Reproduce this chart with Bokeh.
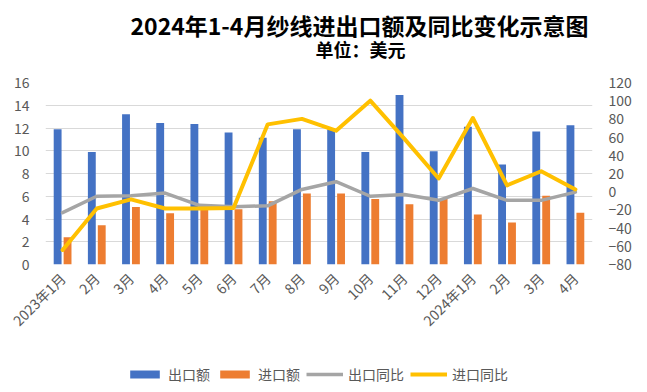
import math
from bokeh.plotting import figure
from bokeh.layouts import column
from bokeh.models import (ColumnDataSource, Range1d, LinearAxis, FixedTicker, Title,
                          Legend, LegendItem)
from bokeh.transform import dodge
from bokeh.embed import file_html
from bokeh.resources import INLINE

months = ["2023年1月", "2月", "3月", "4月", "5月", "6月", "7月", "8月", "9月", "10月",
          "11月", "12月", "2024年1月", "2月", "3月", "4月"]
export_amt = [11.9, 9.9, 13.2, 12.45, 12.35, 11.6, 11.15, 11.9, 11.9, 9.9, 14.9, 9.95,
              12.1, 8.8, 11.7, 12.25]
import_amt = [2.4, 3.45, 5.05, 4.5, 4.9, 4.85, 5.55, 6.25, 6.25, 5.75, 5.3, 5.75,
              4.4, 3.7, 6.05, 4.55]
export_yoy = [-23, -5, -4.5, -1.5, -15, -16.5, -15.5, 2.5, 11, -5, -3, -9.5,
              3.5, -9.5, -9.5, -0.5]
import_yoy = [-64, -18.5, -8.5, -18.5, -18.5, -18, 74, 80, 67, 100, 58, 14.5,
              81, 7, 22.5, 2.5]
left_ticks = list(range(0, 17, 2))
right_ticks = list(range(-80, 121, 20))
series_names = ["出口额", "进口额", "出口同比", "进口同比"]

FONT = "Noto Sans CJK SC"
GRAY_TXT = "#595959"
C_EXP, C_IMP, C_EY, C_IY = "#4472C4", "#ED7D31", "#A5A5A5", "#FFC000"

idx = list(range(len(months)))
src = ColumnDataSource(dict(x=idx, exp=export_amt, imp=import_amt,
                            exp_yoy=export_yoy, imp_yoy=import_yoy))

fig = figure(width=640, height=356, x_range=Range1d(-0.5, len(months) - 0.5),
             y_range=Range1d(0, 16), output_backend="svg", toolbar_location=None,
             min_border_left=45, min_border_right=48, min_border_top=0,
             min_border_bottom=92)
fig.extra_y_ranges = {"yoy": Range1d(-80, 120)}
fig.outline_line_color = None

fig.vbar(x=dodge("x", -0.145), top="exp", width=0.23, source=src,
         fill_color=C_EXP, line_color=None)
fig.vbar(x=dodge("x", 0.145), top="imp", width=0.23, source=src,
         fill_color=C_IMP, line_color=None)
fig.line("x", "exp_yoy", source=src, y_range_name="yoy", line_color=C_EY,
         line_width=3.5, line_join="round", line_cap="round")
fig.line("x", "imp_yoy", source=src, y_range_name="yoy", line_color=C_IY,
         line_width=4, line_join="round", line_cap="round")

# axes
fig.xaxis.ticker = FixedTicker(ticks=idx)
fig.xaxis.major_label_overrides = {i: m for i, m in enumerate(months)}
fig.xaxis.major_label_orientation = math.pi / 4
fig.xaxis.major_label_standoff = 5

fig.yaxis.ticker = FixedTicker(ticks=left_ticks)
fig.yaxis.major_label_standoff = 10

ax_r = LinearAxis(y_range_name="yoy", ticker=FixedTicker(ticks=right_ticks))
ax_r.major_label_standoff = 10
fig.add_layout(ax_r, "right")

for ax in [fig.xaxis[0], fig.yaxis[0], ax_r]:
    ax.axis_line_color = None
    ax.major_tick_line_color = None
    ax.minor_tick_line_color = None
    ax.major_label_text_color = GRAY_TXT
    ax.major_label_text_font = FONT
    ax.major_label_text_font_size = "14px"

fig.xgrid.visible = False
fig.ygrid.grid_line_color = "#D9D9D9"
fig.ygrid.grid_line_width = 1

# titles (first added sits nearest the plot)
spacer = Title(text=" ", standoff=5, text_font=FONT, text_font_size="18px")
sub = Title(text="单位：美元", align="left", offset=270, standoff=0,
            text_font=FONT, text_font_size="18px", text_font_style="bold",
            text_color="black")
try:
    sub.standoff = -25
except Exception:
    sub.standoff = 0
    spacer.standoff = 0
main = Title(text="2024年1-4月纱线进出口额及同比变化示意图", align="left",
             offset=85, standoff=10, text_font=FONT, text_font_size="23px",
             text_font_style="bold", text_color="black")
fig.add_layout(spacer, "above")
fig.add_layout(sub, "above")
fig.add_layout(main, "above")

# legend strip below the chart (its renderers use the same data, kept out of view)
leg_fig = figure(width=640, height=34, x_range=Range1d(-0.5, len(months) - 0.5),
                 y_range=Range1d(1000, 1001), x_axis_type=None, y_axis_type=None,
                 output_backend="svg", toolbar_location=None, min_border=0)
leg_fig.outline_line_color = None
l_exp = leg_fig.vbar(x="x", top="exp", width=0.23, source=src, fill_color=C_EXP,
                     line_color=None)
l_imp = leg_fig.vbar(x="x", top="imp", width=0.23, source=src, fill_color=C_IMP,
                     line_color=None)
l_ey = leg_fig.line("x", "exp_yoy", source=src, line_color=C_EY, line_width=3.5)
l_iy = leg_fig.line("x", "imp_yoy", source=src, line_color=C_IY, line_width=4)

legend = Legend(items=[LegendItem(label=n, renderers=[r])
                       for n, r in zip(series_names, [l_exp, l_imp, l_ey, l_iy])],
                orientation="horizontal", location=(81, 6), padding=0, margin=0,
                spacing=6, glyph_width=37, glyph_height=10, label_standoff=5,
                border_line_color=None, background_fill_alpha=0,
                label_text_font=FONT, label_text_font_size="14px",
                label_text_color=GRAY_TXT)
leg_fig.add_layout(legend, "center")

p = column(fig, leg_fig, spacing=0)
open("out.html", "w").write(file_html(p, INLINE))
